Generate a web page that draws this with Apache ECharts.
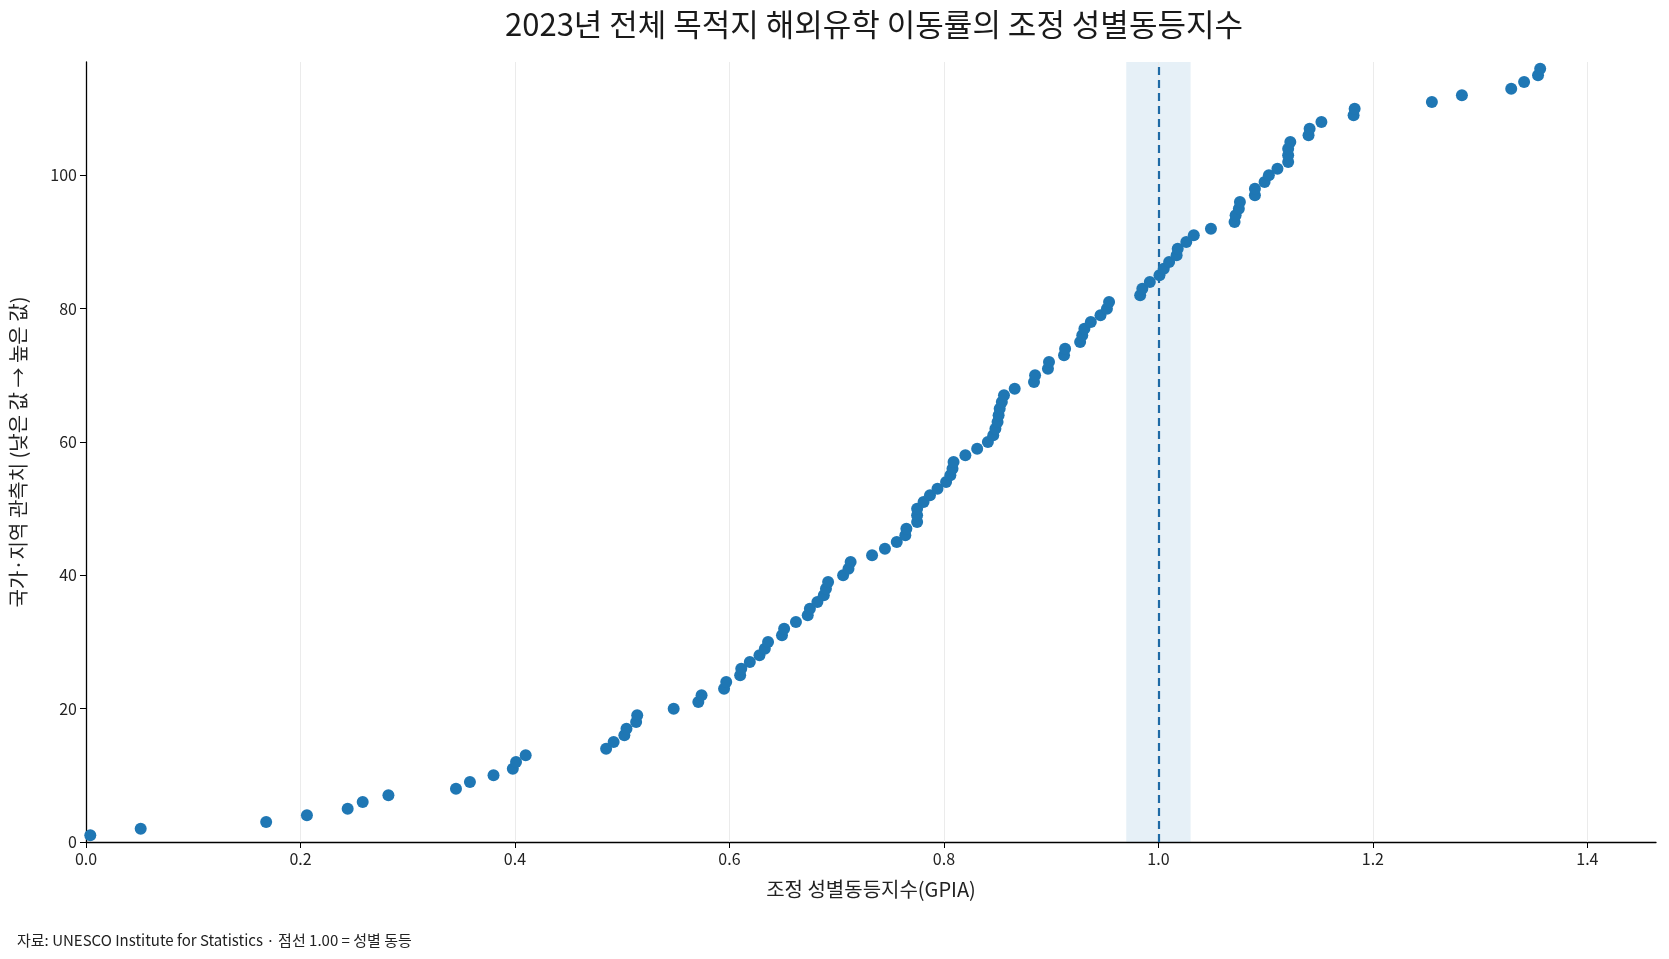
<!DOCTYPE html>
<html>
<head>
<meta charset="utf-8">
<script src="https://cdn.jsdelivr.net/npm/echarts@6/dist/echarts.min.js"></script>
<style>
html, body { margin: 0; padding: 0; background: #fff; }
#main { width: 1669px; height: 959px; }
</style>
</head>
<body>
<div id="main"></div>
<script>
// GPIA values, sorted low -> high (rank = position + 1)
var gpia = [
	0.004, 0.051, 0.168, 0.206, 0.244, 0.258, 0.282, 0.345, 0.358, 0.380,
	0.398, 0.401, 0.410, 0.485, 0.492, 0.502, 0.504, 0.513, 0.514, 0.548,
	0.571, 0.574, 0.595, 0.597, 0.610, 0.611, 0.619, 0.628, 0.633, 0.636,
	0.649, 0.651, 0.662, 0.673, 0.675, 0.682, 0.688, 0.690, 0.692, 0.706,
	0.711, 0.713, 0.733, 0.745, 0.756, 0.764, 0.765, 0.775, 0.775, 0.775,
	0.781, 0.787, 0.794, 0.802, 0.806, 0.808, 0.809, 0.820, 0.831, 0.841,
	0.846, 0.848, 0.850, 0.851, 0.852, 0.854, 0.856, 0.866, 0.884, 0.885,
	0.897, 0.898, 0.912, 0.913, 0.927, 0.929, 0.931, 0.937, 0.946, 0.952,
	0.954, 0.983, 0.985, 0.992, 1.001, 1.005, 1.010, 1.017, 1.018, 1.026,
	1.033, 1.049, 1.071, 1.072, 1.075, 1.076, 1.090, 1.090, 1.099, 1.103,
	1.111, 1.121, 1.121, 1.121, 1.123, 1.140, 1.141, 1.152, 1.182, 1.183,
	1.255, 1.283, 1.329, 1.341, 1.354, 1.356
];
var xTicks = [0, 0.2, 0.4, 0.6, 0.8, 1.0, 1.2, 1.4];
var yTicks = [0, 20, 40, 60, 80, 100];
var parity = 1.0;
var parityBand = [0.97, 1.03];

var titleText = '2023년 전체 목적지 해외유학 이동률의 조정 성별동등지수';
var xName = '조정 성별동등지수(GPIA)';
var yName = '국가·지역 관측치 (낮은 값 → 높은 값)';
var sourceText = '자료: UNESCO Institute for Statistics · 점선 1.00 = 성별 동등';

var points = gpia.map(function (v, i) { return [v, i + 1]; });

var font = '"Noto Sans CJK KR", "Noto Sans", sans-serif';
var gridLeft = 82, gridRight = 13;
var chartDom = document.getElementById('main');
var myChart = echarts.init(chartDom);
var plotCenter = gridLeft + (chartDom.clientWidth - gridLeft - gridRight) / 2;
var option = {
	backgroundColor: '#fff',
	textStyle: { fontFamily: font },
	title: [{
		text: titleText,
		left: plotCenter,
		textAlign: 'center',
		top: 4,
		textStyle: { fontSize: 31, fontWeight: 'normal', color: '#1a1a1a', fontFamily: font }
	}, {
		text: sourceText,
		left: 12,
		top: 928,
		textStyle: { fontSize: 15, fontWeight: 'normal', color: '#222', fontFamily: font }
	}],
	grid: { left: gridLeft, right: gridRight, top: 62, bottom: 117 },
	xAxis: {
		type: 'value',
		min: 0,
		max: 1.464,
		interval: 0.2,
		name: xName,
		nameLocation: 'middle',
		nameGap: 37,
		nameTextStyle: { fontSize: 20, color: '#222' },
		axisLine: { lineStyle: { color: '#000', width: 1.3 } },
		axisTick: { customValues: xTicks, length: 6, lineStyle: { color: '#000' } },
		axisLabel: {
			customValues: xTicks,
			fontSize: 16,
			color: '#222',
			margin: 9,
			formatter: function (v) { return v.toFixed(1); }
		},
		splitLine: { show: false }
	},
	yAxis: {
		type: 'value',
		min: 0,
		max: 117,
		interval: 20,
		name: yName,
		nameLocation: 'middle',
		nameGap: 58,
		nameTextStyle: { fontSize: 20, color: '#222' },
		axisLine: { show: true, lineStyle: { color: '#000', width: 1.3 } },
		axisTick: { show: true, customValues: yTicks, length: 6, lineStyle: { color: '#000' } },
		axisLabel: { customValues: yTicks, fontSize: 16, color: '#222', margin: 9 },
		splitLine: { show: false }
	},
	series: [{
		// background: vertical grid lines and the parity band
		type: 'scatter',
		data: [],
		silent: true,
		z: 1,
		markArea: {
			silent: true,
			itemStyle: { color: 'rgba(31,119,180,0.11)' },
			data: [[{ xAxis: parityBand[0] }, { xAxis: parityBand[1] }]]
		},
		markLine: {
			silent: true,
			symbol: 'none',
			label: { show: false },
			lineStyle: { color: '#ebebeb', type: 'solid', width: 1 },
			data: xTicks.filter(function (t) { return t > 0; }).map(function (t) {
				return { xAxis: t };
			})
		}
	}, {
		type: 'scatter',
		data: points,
		symbolSize: 12,
		itemStyle: { color: '#1f77b4', opacity: 1 },
		z: 5,
		markLine: {
			silent: true,
			symbol: 'none',
			label: { show: false },
			lineStyle: { color: '#1f6aa5', type: [8, 5], width: 2.2, opacity: 1 },
			data: [{ xAxis: parity }]
		}
	}]
};
option && myChart.setOption(option);
</script>
</body>
</html>
